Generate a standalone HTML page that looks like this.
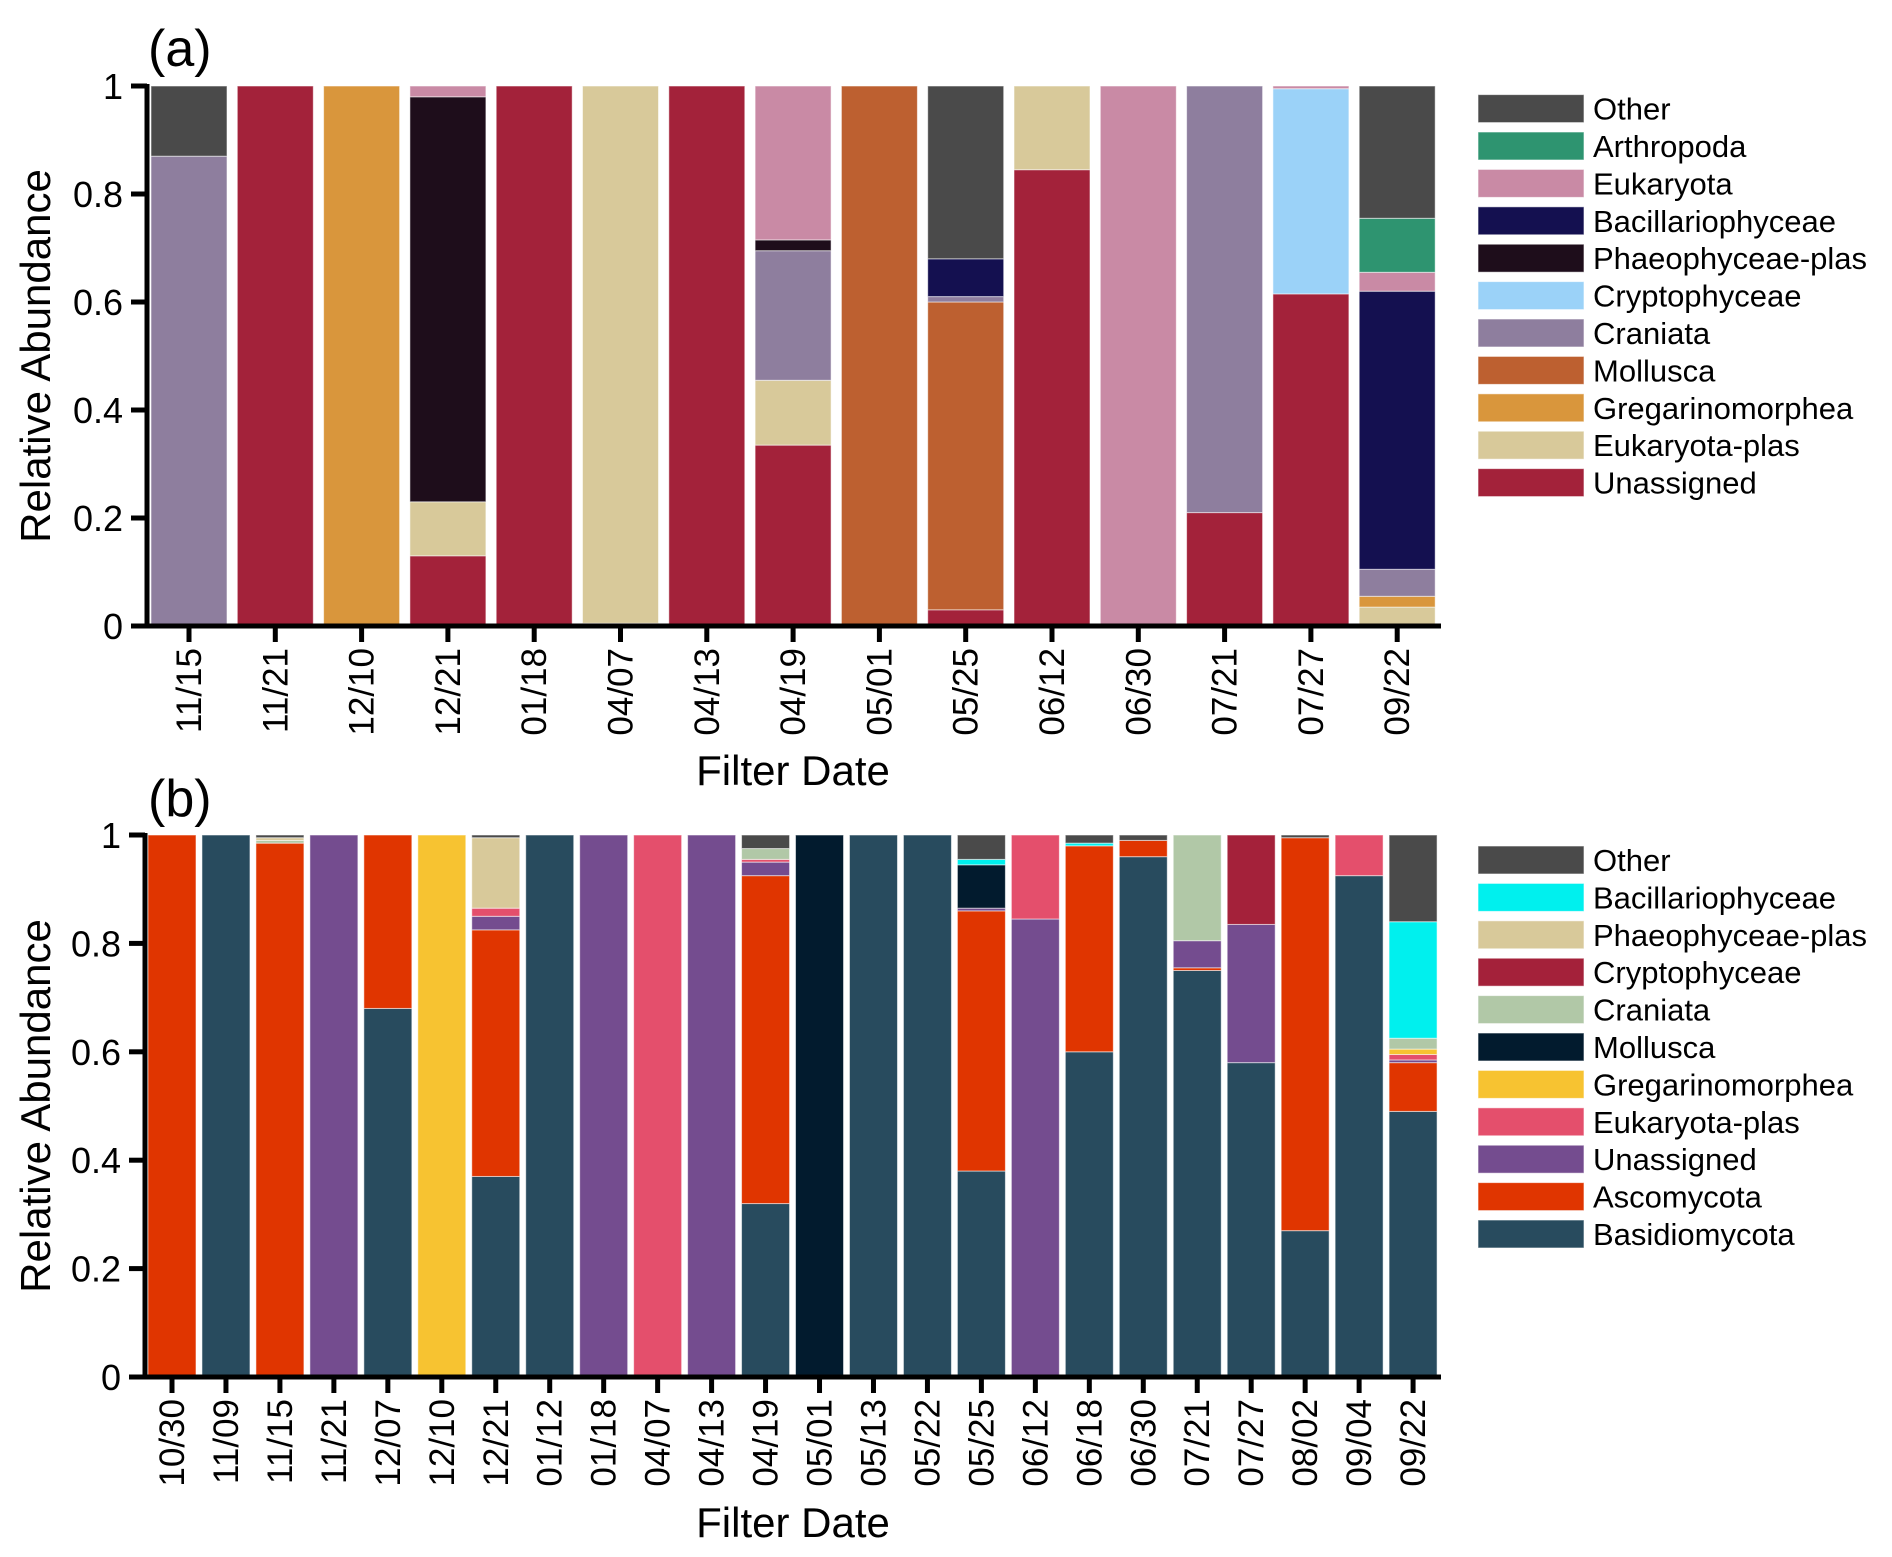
<!DOCTYPE html>
<html><head><meta charset="utf-8"><style>
html,body{margin:0;padding:0;background:#fff;}
svg{display:block;font-family:"Liberation Sans",Arial,sans-serif;}
</style></head><body>
<svg id="chart" width="1892" height="1557" viewBox="0 0 1892 1557" xmlns="http://www.w3.org/2000/svg"></svg>
<script>
// ---------- Panel (a) data ----------
const catsA = ["11/15","11/21","12/10","12/21","01/18","04/07","04/13","04/19","05/01","05/25","06/12","06/30","07/21","07/27","09/22"];
const taxaA = ["Unassigned","Eukaryota-plas","Gregarinomorphea","Mollusca","Craniata","Cryptophyceae","Phaeophyceae-plas","Bacillariophyceae","Eukaryota","Arthropoda","Other"];
const colorsA = ["#a3223a","#d8c99a","#d9963c","#bd6030","#8e7e9e","#9bd2f8","#1e0d1b","#141050","#c98aa5","#2e9470","#4a4a4a"];
const unassignedA  = [0,1,0,0.13,1,0.005,1,0.335,0,0.03,0.845,0,0.21,0.615,0];
const eukPlasA     = [0,0,0,0.10,0,0.995,0,0.12,0,0,0.155,0,0,0,0.035];
const gregA        = [0,0,1,0,0,0,0,0,0,0,0,0,0,0,0.02];
const molluscaA    = [0,0,0,0,0,0,0,0,1,0.57,0,0,0,0,0];
const craniataA    = [0.87,0,0,0,0,0,0,0.24,0,0.01,0,0,0.79,0,0.05];
const cryptoA      = [0,0,0,0,0,0,0,0,0,0,0,0,0,0.38,0];
const phaeoA       = [0,0,0,0.75,0,0,0,0.02,0,0,0,0,0,0,0];
const bacillA      = [0,0,0,0,0,0,0,0,0,0.07,0,0,0,0,0.515];
const eukaryotaA   = [0,0,0,0.02,0,0,0,0.285,0,0,0,1,0,0.005,0.035];
const arthropodaA  = [0,0,0,0,0,0,0,0,0,0,0,0,0,0,0.10];
const otherA       = [0.13,0,0,0,0,0,0,0,0,0.32,0,0,0,0,0.245];
const seriesA = [unassignedA,eukPlasA,gregA,molluscaA,craniataA,cryptoA,phaeoA,bacillA,eukaryotaA,arthropodaA,otherA];

// ---------- Panel (b) data ----------
const catsB = ["10/30","11/09","11/15","11/21","12/07","12/10","12/21","01/12","01/18","04/07","04/13","04/19","05/01","05/13","05/22","05/25","06/12","06/18","06/30","07/21","07/27","08/02","09/04","09/22"];
const taxaB = ["Basidiomycota","Ascomycota","Unassigned","Eukaryota-plas","Gregarinomorphea","Mollusca","Craniata","Cryptophyceae","Phaeophyceae-plas","Bacillariophyceae","Other"];
const colorsB = ["#284b5e","#e03500","#744c8f","#e44f6c","#f7c331","#021b2e","#b1c8a7","#a4213a","#d8c99a","#00f0ee","#4a4a4a"];
const basidioB  = [0,1,0,0,0.68,0,0.37,1,0,0,0,0.32,0,1,1,0.38,0,0.60,0.96,0.75,0.58,0.27,0.925,0.49];
const ascoB     = [1,0,0.985,0,0.32,0,0.455,0,0,0,0,0.605,0,0,0,0.48,0,0.38,0.03,0.005,0,0.725,0,0.09];
const unassB    = [0,0,0,1,0,0,0.025,0,1,0,1,0.025,0,0,0,0.005,0.845,0,0,0.05,0.255,0,0,0.005];
const eukPlasB  = [0,0,0,0,0,0,0.015,0,0,1,0,0.005,0,0,0,0,0.155,0,0,0,0,0,0.075,0.01];
const gregB     = [0,0,0,0,0,1,0,0,0,0,0,0,0,0,0,0,0,0,0,0,0,0,0,0.01];
const molluscaB = [0,0,0,0,0,0,0,0,0,0,0,0,1,0,0,0.08,0,0,0,0,0,0,0,0];
const craniataB = [0,0,0.005,0,0,0,0,0,0,0,0,0.02,0,0,0,0,0,0,0,0.195,0,0,0,0.02];
const cryptoB   = [0,0,0,0,0,0,0,0,0,0,0,0,0,0,0,0,0,0,0,0,0.165,0,0,0];
const phaeoB    = [0,0,0.005,0,0,0,0.13,0,0,0,0,0,0,0,0,0,0,0,0,0,0,0,0,0];
const bacillB   = [0,0,0,0,0,0,0,0,0,0,0,0,0,0,0,0.01,0,0.005,0,0,0,0,0,0.215];
const otherB    = [0,0,0.005,0,0,0,0.005,0,0,0,0,0.025,0,0,0,0.045,0,0.015,0.01,0,0,0.005,0,0.16];
const seriesB = [basidioB,ascoB,unassB,eukPlasB,gregB,molluscaB,craniataB,cryptoB,phaeoB,bacillB,otherB];

const yTicks = [0,0.2,0.4,0.6,0.8,1];
const yTickLabels = ["0","0.2","0.4","0.6","0.8","1"];

const NS = "http://www.w3.org/2000/svg";
const svg = document.getElementById("chart");
function mk(tag, attrs, parent){
  const e = document.createElementNS(NS, tag);
  for (const k in attrs) e.setAttribute(k, attrs[k]);
  (parent||svg).appendChild(e);
  return e;
}

function panel(cfg){
  const g = mk("g", {});
  
  
  const y = v => cfg.y0 - v*(cfg.y0-cfg.y1);
  const xLeft = i => cfg.firstLeft + i*cfg.pitch;
  cfg.cats.forEach((c,i)=>{
    let acc = 0;
    cfg.series.forEach((s,k)=>{
      const v = s[i];
      if (v <= 0) return;
      const r = mk("rect", {x:xLeft(i), y:y(acc+v), width:cfg.barW, height:y(acc)-y(acc+v), fill:cfg.colors[k], stroke:"rgba(255,255,255,0.55)", "stroke-width":1}, g);
      
      
      acc += v;
    });
    const cx = xLeft(i) + cfg.barW/2;
    const t = mk("line", {x1:cx, x2:cx, y1:cfg.y0, y2:cfg.y0+16, stroke:"#000", "stroke-width":5}, g);
    
    
    const lab = mk("text", {x:0, y:0, transform:`translate(${cx+12},${cfg.y0+22}) rotate(-90)`, "text-anchor":"end", "font-size":35}, g);
    lab.textContent = c;
    
    
  });
  const ax = mk("line", {x1:cfg.axisX, x2:cfg.axisX, y1:cfg.y1-2, y2:cfg.y0+2, stroke:"#000", "stroke-width":5}, g);
  
  
  const bx = mk("line", {x1:cfg.axisX-16, x2:1441, y1:cfg.y0, y2:cfg.y0, stroke:"#000", "stroke-width":5}, g);
  
  
  yTicks.forEach((v,i)=>{
    const tl = mk("line", {x1:cfg.axisX-16, x2:cfg.axisX, y1:y(v), y2:y(v), stroke:"#000", "stroke-width":5}, g);
    
    
    const tx = mk("text", {x:cfg.axisX-24, y:y(v)+13, "text-anchor":"end", "font-size":36}, g);
    tx.textContent = yTickLabels[i];
    
    
  });
  const yt = mk("text", {transform:`translate(50,${(cfg.y0+cfg.y1)/2}) rotate(-90)`, "text-anchor":"middle", "font-size":42}, g);
  yt.textContent = "Relative Abundance";
  
  
  const xt = mk("text", {x:793, y:cfg.xTitleY, "text-anchor":"middle", "font-size":42}, g);
  xt.textContent = "Filter Date";
  
  
  const pl = mk("text", {x:148, y:cfg.labelY, "font-size":52}, g);
  pl.textContent = cfg.label;
  
  
  const lg = mk("g", {}, g);
  
  
  const n = cfg.taxa.length;
  for (let j=0;j<n;j++){
    const k = n-1-j;
    const cy = cfg.legY + j*37.4;
    const sw = mk("rect", {x:1478, y:cy-14, width:106, height:28, fill:cfg.colors[k], stroke:"rgba(255,255,255,0.6)", "stroke-width":1}, lg);
    
    
    const lt = mk("text", {x:1593, y:cy+11, "font-size":31}, lg);
    lt.textContent = cfg.taxa[k];
    
    
  }
}

panel({name:"panel-a", label:"(a)", labelY:66, cats:catsA, series:seriesA, colors:colorsA, taxa:taxaA,
  y0:626, y1:86, axisX:147, firstLeft:151, pitch:86.3, barW:76, xTitleY:785, legY:108.6});
panel({name:"panel-b", label:"(b)", labelY:816, cats:catsB, series:seriesB, colors:colorsB, taxa:taxaB,
  y0:1377, y1:835, axisX:145, firstLeft:148, pitch:53.96, barW:48, xTitleY:1537, legY:860});
</script>
</body></html>
